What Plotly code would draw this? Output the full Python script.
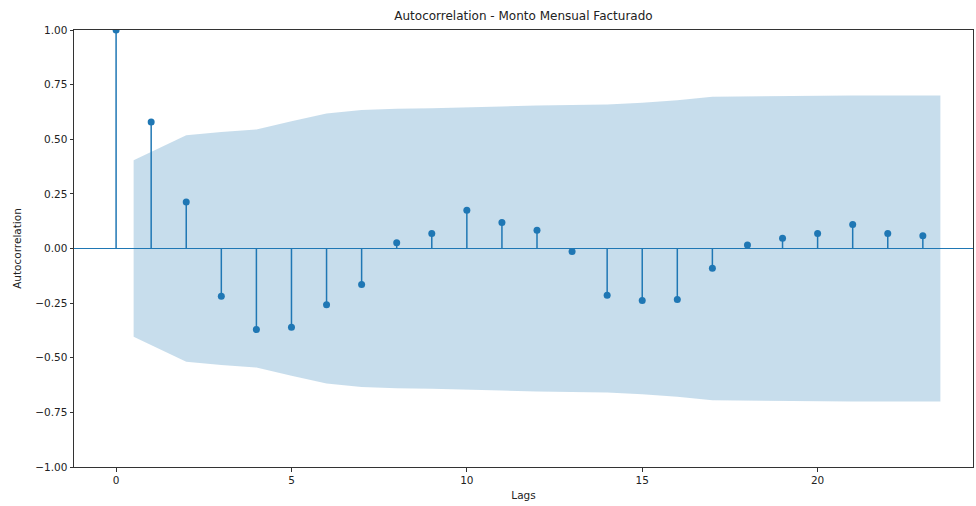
import plotly.graph_objects as go

lags = list(range(24))
acf_vals = [1.0, 0.579, 0.213, -0.218, -0.371, -0.360, -0.258, -0.165, 0.026, 0.069,
            0.175, 0.119, 0.084, -0.014, -0.214, -0.238, -0.233, -0.090, 0.016, 0.047,
            0.069, 0.110, 0.069, 0.058]
# confidence half-width for lags 1..23
conf_width = [0.404, 0.518, 0.533, 0.545, 0.582, 0.618, 0.634, 0.640, 0.642, 0.645,
              0.650, 0.655, 0.657, 0.659, 0.667, 0.678, 0.695, 0.697, 0.698, 0.699,
              0.700, 0.700, 0.700]
y_ticks = [-1.0, -0.75, -0.5, -0.25, 0.0, 0.25, 0.5, 0.75, 1.0]
x_ticks = [0, 5, 10, 15, 20]

C0 = "#1f77b4"
FONT = "DejaVu Sans"

band_x = [float(v) for v in lags[1:]]
band_x[0] -= 0.5
band_x[-1] += 0.5

fig = go.Figure()
# confidence band
fig.add_trace(go.Scatter(x=band_x, y=[-w for w in conf_width], mode="lines",
                         line=dict(width=0, color=C0), hoverinfo="skip", showlegend=False))
fig.add_trace(go.Scatter(x=band_x, y=conf_width, mode="lines", fill="tonexty",
                         fillcolor="rgba(31,119,180,0.25)", line=dict(width=0, color=C0),
                         hoverinfo="skip", showlegend=False))

# stems
sx, sy = [], []
for l, v in zip(lags, acf_vals):
    sx += [l, l, None]
    sy += [0, v, None]
fig.add_trace(go.Scatter(x=sx, y=sy, mode="lines", line=dict(color=C0, width=1.5),
                         hoverinfo="skip", showlegend=False))
# zero line
fig.add_hline(y=0, line=dict(color=C0, width=1.2))
# markers
fig.add_trace(go.Scatter(x=lags, y=acf_vals, mode="markers",
                         marker=dict(color=C0, size=7), showlegend=False))

axis_common = dict(showline=True, linecolor="#333333", linewidth=1, mirror=True,
                   ticks="outside", ticklen=3.5, tickcolor="#333333", showgrid=False,
                   zeroline=False, tickfont=dict(family=FONT, size=10.5, color="#222222"))

fig.update_xaxes(range=[-1.2, 24.43], tickvals=x_ticks, ticktext=[str(t) for t in x_ticks],
                 title=dict(text="Lags", font=dict(family=FONT, size=10.5, color="#222222"),
                            standoff=6),
                 **axis_common)
fig.update_yaxes(range=[-1.0, 1.0], tickvals=y_ticks,
                 ticktext=[("\u2212" if t < 0 else "") + f"{abs(t):.2f}" for t in y_ticks],
                 title=dict(text="Autocorrelation", font=dict(family=FONT, size=10.5, color="#222222"),
                            standoff=11),
                 **axis_common)

fig.update_layout(
    width=976, height=506,
    margin=dict(l=74, r=3, t=30, b=39),
    paper_bgcolor="white", plot_bgcolor="white",
    title=dict(text="Autocorrelation - Monto Mensual Facturado", x=0.5, xanchor="center",
               xref="paper", y=0.968, yanchor="middle",
               font=dict(family=FONT, size=12, color="#222222")),
    font=dict(family=FONT),
    showlegend=False,
)

fig.write_html("out.html", config={"displayModeBar": False},
               post_script="document.body.style.margin='0';")
